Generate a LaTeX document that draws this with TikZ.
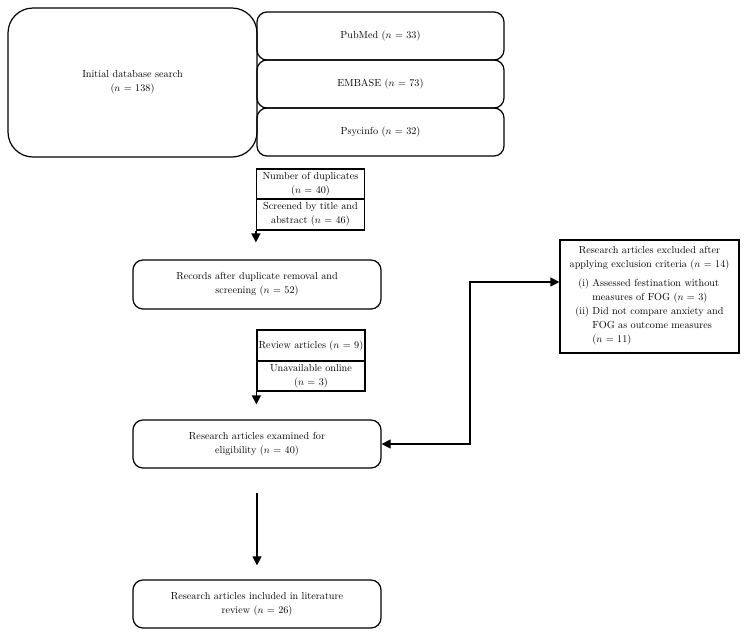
\documentclass[tikz,border=0pt]{standalone}
\usetikzlibrary{arrows.meta}
\begin{document}
\begin{tikzpicture}[x=1pt,y=-1pt,every text node part/.style={align=center},
	font=\fontsize{10.2}{14}\selectfont,
	bigbox/.style={draw,line width=1.2pt,rounded corners=25pt,inner sep=0pt},
	dbbox/.style={draw,line width=1.2pt,rounded corners=10pt,minimum width=247pt,minimum height=48pt,inner sep=0pt},
	stagebox/.style={draw,line width=1.2pt,rounded corners=10pt,minimum width=248pt,minimum height=48pt,inner sep=0pt},
	notebox/.style={draw,line width=1.2pt,minimum width=108pt,inner sep=0pt},
	arr/.style={line width=1.2pt,-{Triangle[length=9pt,width=9pt]}}]
	\useasboundingbox (0,0) rectangle (748,638);

	\node[bigbox,minimum width=249pt,minimum height=149pt] (init) at (132.5,82.5) {Initial database search\\($n$ = 138)};
	\node[dbbox] (pubmed) at (380.5,36) {PubMed ($n$ = 33)};
	\node[dbbox] (embase) at (380.5,84) {EMBASE ($n$ = 73)};
	\node[dbbox] (psycinfo) at (380.5,132) {Psycinfo ($n$ = 32)};

	\node[notebox,minimum height=30pt] (dup) at (310.5,184) {Number of duplicates\\($n$ = 40)};
	\node[notebox,minimum height=31pt] (scr) at (310.5,214.5) {Screened by title and\\abstract ($n$ = 46)};

	\node[stagebox,minimum height=49pt] (rec) at (257,284.5) {Records after duplicate removal and\\screening ($n$ = 52)};

	\node[notebox,minimum height=31pt] (rev) at (311,345.5) {Review articles ($n$ = 9)};
	\node[notebox,minimum height=30pt] (unav) at (311,376) {Unavailable online\\($n$ = 3)};

	\node[stagebox] (exam) at (257,444) {Research articles examined for\\eligibility ($n$ = 40)};
	\node[stagebox] (final) at (257,604) {Research articles included in literature\\review ($n$ = 26)};

	\node[draw,line width=1.2pt,minimum width=179pt,minimum height=113pt,inner sep=0pt] (excl) at (649.5,296.5)
		{Research articles excluded after\\applying exclusion criteria ($n$ = 14)\\[6pt]
		\begin{tabular}{@{}r@{\ }l@{}}
			(i) & Assessed festination without\\
			& measures of FOG ($n$ = 3)\\
			(ii) & Did not compare anxiety and\\
			& FOG as outcome measures\\
			& ($n$ = 11)
		\end{tabular}};
	\coordinate (bend) at (470,282);

	\draw[arr,shorten >=17pt] (scr.south west) -- (scr.south west |- rec.north);
	\draw[arr,shorten >=15pt] (unav.south west) -- (unav.south west |- exam.north);
	\draw[arr,shorten <=24pt,shorten >=14pt] (exam.south) -- (final.north);
	\draw[line width=1.2pt,{Triangle[length=9pt,width=9pt]}-{Triangle[length=9pt,width=9pt]}] (exam.east) -| (bend) -- (bend -| excl.west);

\end{tikzpicture}
\end{document}
